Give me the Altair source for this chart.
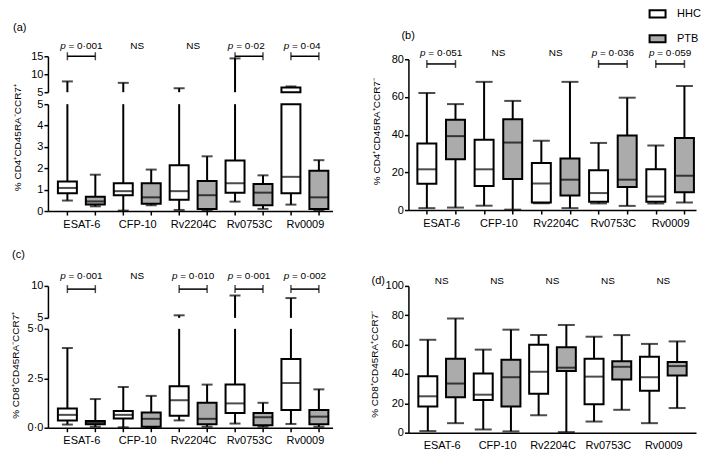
import altair as alt
import pandas as pd

ANTIGENS = ["ESAT-6", "CFP-10", "Rv2204C", "Rv0753C", "Rv0009"]
GROUPS = ["HHC", "PTB"]

# order: ESAT-6 HHC, ESAT-6 PTB, CFP-10 HHC, CFP-10 PTB, Rv2204C HHC, ...
A_LO = [0.49, 0.22, 0.02, 0.27, 0.05, 0.03, 0.44, 0.10, 0.30, 0.04]
A_Q1 = [0.83, 0.30, 0.74, 0.34, 0.53, 0.09, 0.86, 0.27, 0.83, 0.09]
A_MED = [1.08, 0.45, 0.93, 0.64, 0.93, 0.74, 1.30, 0.86, 1.60, 0.64]
A_Q3 = [1.38, 0.67, 1.30, 1.30, 2.14, 1.40, 2.37, 1.27, 6.30, 1.89]
A_HI = [8.0, 1.70, 7.6, 1.94, 6.1, 2.56, 14.4, 1.67, 6.6, 2.38]
A_NOTES = ["0·001", "NS", "NS", "0·02", "0·04"]

B_LO = [1.0, 1.3, 2.3, 0.2, 3.6, 1.0, 3.5, 2.2, 3.5, 4.0]
B_Q1 = [13.9, 26.9, 12.7, 16.4, 4.0, 7.7, 4.4, 12.2, 4.4, 9.4]
B_MED = [21.6, 39.2, 21.6, 35.8, 14.1, 16.1, 9.0, 16.1, 7.2, 18.2]
B_Q3 = [35.3, 47.9, 37.3, 48.2, 24.9, 27.3, 21.1, 39.5, 21.6, 38.2]
B_HI = [62.1, 56.2, 68.0, 57.9, 36.7, 68.0, 35.6, 59.6, 34.3, 65.8]
B_NOTES = ["0·051", "NS", "NS", "0·036", "0·059"]

C_LO = [0.16, 0.05, 0.02, 0.0, 0.37, 0.05, 0.21, 0.05, 0.19, 0.05]
C_Q1 = [0.37, 0.18, 0.47, 0.05, 0.60, 0.18, 0.74, 0.13, 0.89, 0.18]
C_MED = [0.65, 0.26, 0.65, 0.45, 1.39, 0.45, 1.23, 0.53, 2.26, 0.56]
C_Q3 = [0.97, 0.34, 0.85, 0.77, 2.10, 1.26, 2.18, 0.74, 3.47, 0.90]
C_HI = [4.03, 1.45, 2.06, 1.61, 5.4, 2.18, 8.5, 1.26, 8.1, 1.94]
C_NOTES = ["0·001", "NS", "0·010", "0·001", "0·002"]

D_LO = [1.1, 6.5, 2.2, 0.9, 11.9, 0.4, 7.6, 15.6, 6.5, 16.8]
D_Q1 = [17.9, 24.2, 22.2, 17.9, 26.6, 42.1, 19.4, 36.3, 28.5, 38.9]
D_MED = [24.8, 33.5, 25.9, 37.8, 41.5, 44.3, 38.2, 44.9, 37.8, 45.4]
D_Q3 = [38.4, 50.3, 40.4, 49.7, 60.0, 58.3, 50.3, 48.6, 51.8, 48.2]
D_HI = [63.3, 77.8, 56.6, 70.2, 66.5, 73.4, 65.4, 66.5, 60.5, 62.2]
D_NOTES = ["NS", "NS", "NS", "NS", "NS"]

FONT = "Liberation Sans"
PTB_FILL = "#ababab"
LW = 2

FILL_SCALE = alt.Scale(domain=GROUPS, range=["white", PTB_FILL])
LEGEND = alt.Legend(
    orient="none", legendX=244, legendY=-48, title=None, padding=0,
    symbolType="M-2,-0.9H2V0.9H-2Z", symbolSize=64,
    symbolStrokeColor="black", symbolStrokeWidth=2,
    labelFont=FONT, labelFontSize=11, labelColor="black",
    labelOffset=14, rowPadding=8, direction="vertical",
)


def box_df(lo, q1, med, q3, hi):
    rows = []
    for i in range(10):
        rows.append(dict(pos=i, antigen=ANTIGENS[i // 2], group=GROUPS[i % 2],
                         lo=lo[i], q1=q1[i], med=med[i], q3=q3[i], hi=hi[i]))
    return pd.DataFrame(rows)


def note_df(notes, yv):
    rows = []
    for i, n in enumerate(notes):
        isp = n != "NS"
        rows.append(dict(x0=2 * i, x1=2 * i + 1, xc=2 * i + 0.5, y=yv, note=n,
                         is_p=isp, rest=("= " + n) if isp else n))
    return pd.DataFrame(rows)


def x_axis(ticks=True):
    expr = ""
    for i, a in enumerate(ANTIGENS):
        expr += f"datum.value == {2 * i + 0.5} ? '{a}' : "
    expr += "''"
    vals = []
    for i in range(5):
        vals += [2 * i, 2 * i + 0.5, 2 * i + 1]
    kw = {}
    if ticks:
        kw["tickOpacity"] = {"condition": {"test": "datum.value % 1 != 0", "value": 0}, "value": 1}
    else:
        kw["tickOpacity"] = 0
    return alt.Axis(values=vals, labelExpr=expr, title=None, tickSize=4, labelPadding=3,
                    labelOverlap=False, labelFlush=False, labelFontSize=11, domainWidth=1.5, **kw)


def seg_layers(df, X, yscale, yaxis, seg_lo, seg_hi, cap_w, top, FILL):
    def Y(f):
        return alt.Y(f + ":Q", scale=yscale, axis=yaxis)
    base = alt.Chart(df)
    L = []
    if top:
        f_hi = f"datum.hi > {seg_lo}"
        L.append(base.mark_rule(color="black", strokeWidth=LW).encode(
            x=X("pos"), y=Y("q3"), y2="hi").transform_filter(f_hi))
        L.append(base.mark_bar(stroke="black", strokeWidth=LW, size=19, orient="vertical").encode(
            x=X("pos"), y=Y("q1"), y2="q3", fill=FILL).transform_filter(f"datum.q3 > {seg_lo}"))
        L.append(base.mark_tick(orient="horizontal", size=cap_w, thickness=LW, color="black").encode(
            x=X("pos"), y=Y("hi")).transform_filter(f_hi))
    else:
        L.append(base.mark_rule(color="black", strokeWidth=LW).encode(
            x=X("pos"), y=Y("lo"), y2="q1"))
        L.append(base.mark_rule(color="black", strokeWidth=LW).encode(
            x=X("pos"), y=Y("q3"), y2="hi"))
        L.append(base.mark_bar(stroke="black", strokeWidth=LW, size=19, orient="vertical").encode(
            x=X("pos"), y=Y("q1"), y2="q3", fill=FILL))
        L.append(base.mark_tick(orient="horizontal", size=20, thickness=LW, color="black").encode(
            x=X("pos"), y=Y("med")))
        L.append(base.mark_tick(orient="horizontal", size=cap_w, thickness=LW, color="black").encode(
            x=X("pos"), y=Y("lo")))
        L.append(base.mark_tick(orient="horizontal", size=cap_w, thickness=LW, color="black").encode(
            x=X("pos"), y=Y("hi")).transform_filter(f"datum.hi <= {seg_hi}"))
    return L


def note_layers(ndf, X, yscale, yaxis, dy):
    def Y(f):
        return alt.Y(f + ":Q", scale=yscale, axis=yaxis)
    base = alt.Chart(ndf)
    pf = "datum.is_p"
    L = [
        base.mark_rule(color="black", strokeWidth=1.5).encode(x=X("x0"), x2="x1", y=Y("y")).transform_filter(pf),
        base.mark_tick(orient="vertical", size=8, thickness=1.5, color="black").encode(x=X("x0"), y=Y("y")).transform_filter(pf),
        base.mark_tick(orient="vertical", size=8, thickness=1.5, color="black").encode(x=X("x1"), y=Y("y")).transform_filter(pf),
        base.mark_text(text="p", fontStyle="italic", align="right", baseline="middle", dx=-15.7, dy=dy,
                       fontSize=10, font=FONT, color="black").encode(x=X("xc"), y=Y("y")).transform_filter(pf),
        base.mark_text(align="left", baseline="middle", dx=-12.9, dy=dy, fontSize=10, font=FONT,
                       color="black").encode(x=X("xc"), y=Y("y"), text="rest:N").transform_filter(pf),
        base.mark_text(align="center", baseline="middle", dy=dy, fontSize=10, font=FONT,
                       color="black").encode(x=X("xc"), y=Y("y"), text="note:N").transform_filter("!datum.is_p"),
    ]
    return L


def y_axis(values, title=None, tx=-30, ty=80, dot=False):
    kw = {}
    if dot:
        kw["labelExpr"] = "replace(format(datum.value, '.1f'), '.', '·')"
    else:
        kw["format"] = "d"
    if title:
        kw.update(title=title, titleX=tx, titleY=ty, titleAngle=270, titleAlign="center",
                  titleBaseline="middle", titleFontSize=10)
    else:
        kw["title"] = None
    return alt.Axis(values=values, orient="left", tickSize=4, labelPadding=1, domainWidth=1.5,
                    labelFontSize=11, **kw)


def make_panel(lo, q1, med, q3, hi, notes, xdom, width, height, segs, cap_w, note_y, note_dy,
               label, ldx, loff, ticks=True, legend=False):
    df = box_df(lo, q1, med, q3, hi)
    xs = alt.Scale(domain=xdom, nice=False, zero=False)
    xa = x_axis(ticks)
    if legend:
        FILL = alt.Fill("group:N", scale=FILL_SCALE, legend=LEGEND)
    else:
        FILL = alt.Fill("group:N", scale=FILL_SCALE, legend=None)

    def X(f):
        return alt.X(f + ":Q", scale=xs, axis=xa)

    groups = []
    for k, s in enumerate(segs):
        ys = alt.Scale(domain=s["domain"], range=s["range"], clamp=True, nice=False, zero=False)
        ya = s["axis"]
        top = s["top"]
        L = seg_layers(df, X, ys, ya, s["domain"][0], s["domain"][1], cap_w, top, FILL)
        if k == len(segs) - 1:
            L += note_layers(note_df(notes, note_y), X, ys, ya, note_dy)
        groups.append(alt.layer(*L))
    if len(groups) > 1:
        ch = alt.layer(*groups).resolve_scale(y="independent")
    else:
        ch = groups[0]
    return ch.properties(
        width=width, height=height,
        title=alt.TitleParams(label, anchor="start", frame="group", dx=ldx, offset=loff,
                              fontSize=11, fontWeight="normal", font=FONT, color="black"),
    )


pa = make_panel(
    A_LO, A_Q1, A_MED, A_Q3, A_HI, A_NOTES, [-0.517, 9.31], 285, 155,
    [
        dict(domain=[0, 5], range=[155, 48], top=False,
             axis=y_axis([0, 1, 2, 3, 4, 5], "% CD4⁺CD45RA⁻CCR7⁺", -30, 81)),
        dict(domain=[5, 15], range=[36, 0], top=True, axis=y_axis([5, 10, 15])),
    ],
    11, 15, -10, "(a)", -35, 8,
)

pb = make_panel(
    B_LO, B_Q1, B_MED, B_Q3, B_HI, B_NOTES, [-0.47, 9.23], 288, 154,
    [dict(domain=[0, 80], range=[154, 3], top=False,
          axis=y_axis([0, 20, 40, 60, 80], "% CD4⁺CD45RA⁺CCR7⁻", -32, 75))],
    17, 77.5, -11, "(b)", -7, -33, legend=True,
)

pc = make_panel(
    C_LO, C_Q1, C_MED, C_Q3, C_HI, C_NOTES, [-0.517, 9.31], 285, 142,
    [
        dict(domain=[0, 5], range=[142, 43], top=False,
             axis=y_axis([0, 2.5, 5], "% CD8⁺CD45RA⁻CCR7⁺", -32, 79, dot=True)),
        dict(domain=[5, 10], range=[32, 0], top=True, axis=y_axis([5, 10])),
    ],
    11, 9.5, -13, "(c)", -36, 11,
)

pd_ = make_panel(
    D_LO, D_Q1, D_MED, D_Q3, D_HI, D_NOTES, [-0.52, 9.5], 288, 147,
    [dict(domain=[0, 100], range=[147, 0], top=False,
          axis=y_axis([0, 20, 40, 60, 80, 100], "% CD8⁺CD45RA⁺CCR7⁻", -34, 78))],
    17, 100, -5, "(d)", -37, -10, ticks=False,
)

chart = alt.concat(
    pa, pb, pc, pd_, columns=2, spacing={"row": 75, "column": 76}, bounds="flush"
).resolve_scale(x="independent", y="independent", fill="independent").resolve_legend(
    fill="independent"
).properties(
    padding={"left": 3, "top": 0, "right": 0, "bottom": 0}
).configure(font=FONT).configure_view(stroke=None).configure_axis(
    domainColor="black", tickColor="black", tickWidth=1.5, labelColor="black",
    labelFont=FONT, titleFont=FONT, titleColor="black", titleFontWeight="normal", grid=False,
)

chart.save("out.html", embed_options={"renderer": "svg", "actions": False})
